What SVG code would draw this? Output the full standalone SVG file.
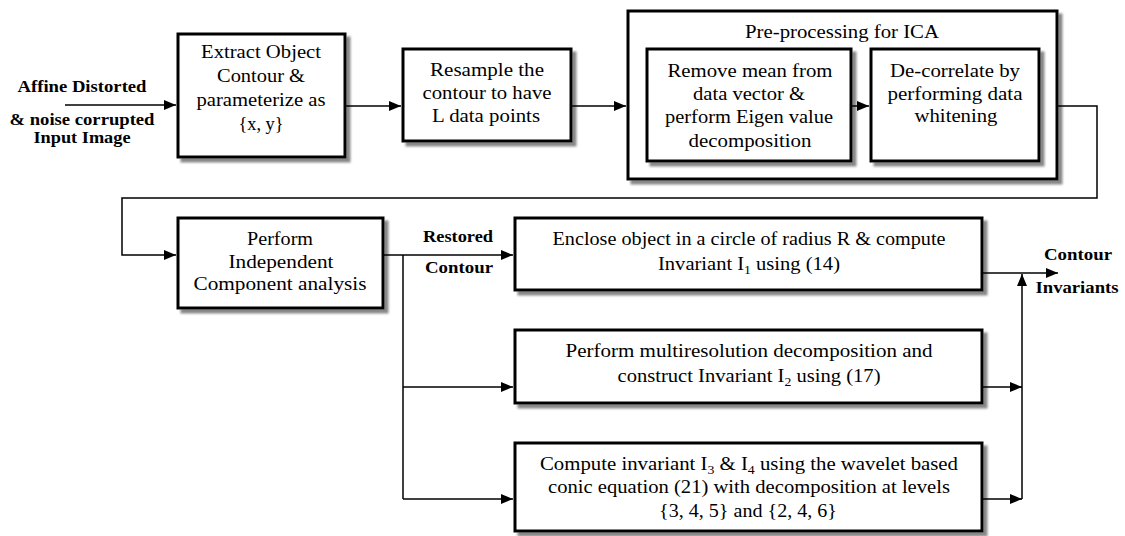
<svg xmlns="http://www.w3.org/2000/svg" width="1125" height="536" viewBox="0 0 1125 536">
<style>
.box{fill:#fff;stroke:#000;stroke-width:3;filter:url(#sh)}
.t{font-family:"Liberation Serif","Times New Roman",serif;font-size:18px;fill:#000;text-anchor:middle}
.b{font-family:"Liberation Serif","Times New Roman",serif;font-size:16px;font-weight:bold;fill:#000;text-anchor:middle}
.sub{font-size:12px}
.c{fill:none;stroke:#000;stroke-width:1.5}
.a{marker-end:url(#ah)}
</style>
<defs>
<filter id="sh" x="-5%" y="-5%" width="115%" height="130%">
<feDropShadow dx="4" dy="4" stdDeviation="1.2" flood-color="#7a7a7a" flood-opacity="0.9"/>
</filter>
<marker id="ah" markerUnits="userSpaceOnUse" markerWidth="12" markerHeight="10" refX="12" refY="5" orient="auto">
<path d="M0,0 L12,5 L0,10 z" fill="#000"/>
</marker>
</defs>
<rect width="1125" height="536" fill="#fff"/>

<g id="input">
<text class="b" x="82" y="92" textLength="129" lengthAdjust="spacingAndGlyphs">Affine Distorted</text>
<text class="b" x="82" y="125" textLength="145" lengthAdjust="spacingAndGlyphs">&amp; noise corrupted</text>
<text class="b" x="82" y="143" textLength="97" lengthAdjust="spacingAndGlyphs">Input Image</text>
</g>

<g id="extract">
<rect class="box" x="178" y="34" width="167" height="123"/>
<text class="t" x="261" y="58" textLength="120" lengthAdjust="spacingAndGlyphs">Extract Object</text>
<text class="t" x="261" y="82" textLength="88" lengthAdjust="spacingAndGlyphs">Contour &amp;</text>
<text class="t" x="261" y="106" textLength="129" lengthAdjust="spacingAndGlyphs">parameterize as</text>
<text class="t" x="261" y="130" textLength="45" lengthAdjust="spacingAndGlyphs">{x, y}</text>
</g>

<g id="resample">
<rect class="box" x="403" y="49" width="168" height="92"/>
<text class="t" x="487" y="76" textLength="114" lengthAdjust="spacingAndGlyphs">Resample the</text>
<text class="t" x="487" y="99" textLength="129" lengthAdjust="spacingAndGlyphs">contour to have</text>
<text class="t" x="486" y="122" textLength="108" lengthAdjust="spacingAndGlyphs">L data points</text>
</g>

<g id="preprocessing">
<rect class="box" x="628" y="11" width="429" height="168"/>
<text class="t" x="842" y="38" textLength="194" lengthAdjust="spacingAndGlyphs">Pre-processing for ICA</text>
</g>

<g id="removemean">
<rect class="box" x="647" y="49" width="204" height="112"/>
<text class="t" x="750" y="77" textLength="165" lengthAdjust="spacingAndGlyphs">Remove mean from</text>
<text class="t" x="749" y="100" textLength="112" lengthAdjust="spacingAndGlyphs">data vector &amp;</text>
<text class="t" x="749" y="123" textLength="168" lengthAdjust="spacingAndGlyphs">perform Eigen value</text>
<text class="t" x="750" y="147" textLength="123" lengthAdjust="spacingAndGlyphs">decomposition</text>
</g>

<g id="decorrelate">
<rect class="box" x="871" y="49" width="168" height="112"/>
<text class="t" x="955" y="77" textLength="130" lengthAdjust="spacingAndGlyphs">De-correlate by</text>
<text class="t" x="955" y="100" textLength="135" lengthAdjust="spacingAndGlyphs">performing data</text>
<text class="t" x="956" y="122" textLength="83" lengthAdjust="spacingAndGlyphs">whitening</text>
</g>

<g id="ica">
<rect class="box" x="178" y="218" width="205" height="90"/>
<text class="t" x="280" y="245" textLength="66" lengthAdjust="spacingAndGlyphs">Perform</text>
<text class="t" x="281" y="268" textLength="105" lengthAdjust="spacingAndGlyphs">Independent</text>
<text class="t" x="280" y="290" textLength="173" lengthAdjust="spacingAndGlyphs">Component analysis</text>
</g>

<g id="inv1">
<rect class="box" x="515" y="218" width="467" height="72"/>
<text class="t" x="749" y="245" textLength="393" lengthAdjust="spacingAndGlyphs">Enclose object in a circle of radius R &amp; compute</text>
<text class="t" x="749" y="270" textLength="182" lengthAdjust="spacingAndGlyphs">Invariant I<tspan class="sub" dy="4">1</tspan><tspan dy="-4"> using (14)</tspan></text>
</g>

<g id="inv2">
<rect class="box" x="515" y="330" width="467" height="73"/>
<text class="t" x="749" y="357" textLength="367" lengthAdjust="spacingAndGlyphs">Perform multiresolution decomposition and</text>
<text class="t" x="749" y="382" textLength="263" lengthAdjust="spacingAndGlyphs">construct Invariant I<tspan class="sub" dy="4">2</tspan><tspan dy="-4"> using (17)</tspan></text>
</g>

<g id="inv34">
<rect class="box" x="515" y="443" width="467" height="88"/>
<text class="t" x="749" y="470" textLength="418" lengthAdjust="spacingAndGlyphs">Compute invariant I<tspan class="sub" dy="4">3</tspan><tspan dy="-4"> &amp; I</tspan><tspan class="sub" dy="4">4</tspan><tspan dy="-4"> using the wavelet based</tspan></text>
<text class="t" x="749" y="493" textLength="402" lengthAdjust="spacingAndGlyphs">conic equation (21) with decomposition at levels</text>
<text class="t" x="748" y="517" textLength="178" lengthAdjust="spacingAndGlyphs">{3, 4, 5} and {2, 4, 6}</text>
</g>

<g id="labels">
<text class="b" x="458" y="242" textLength="70" lengthAdjust="spacingAndGlyphs">Restored</text>
<text class="b" x="459" y="273" textLength="68" lengthAdjust="spacingAndGlyphs">Contour</text>
<text class="b" x="1078" y="260" textLength="68" lengthAdjust="spacingAndGlyphs">Contour</text>
<text class="b" x="1077" y="293" textLength="83" lengthAdjust="spacingAndGlyphs">Invariants</text>
</g>

<g id="connectors">
<path class="c a" d="M65 105 H176"/>
<path class="c a" d="M346 106 H401"/>
<path class="c a" d="M572 106 H626"/>
<path class="c a" d="M852 106 H869"/>
<path class="c a" d="M1058 106 H1097 V198 H122 V255 H176"/>
<path class="c a" d="M384 255 H513"/>
<path class="c" d="M403 255 V499"/>
<path class="c a" d="M403 387 H513"/>
<path class="c a" d="M403 499 H513"/>
<path class="c a" d="M983 273 H1058"/>
<path class="c a" d="M983 387 H1022"/>
<path class="c a" d="M983 499 H1022"/>
<path class="c a" d="M1022 499 V274"/>
</g>
</svg>
